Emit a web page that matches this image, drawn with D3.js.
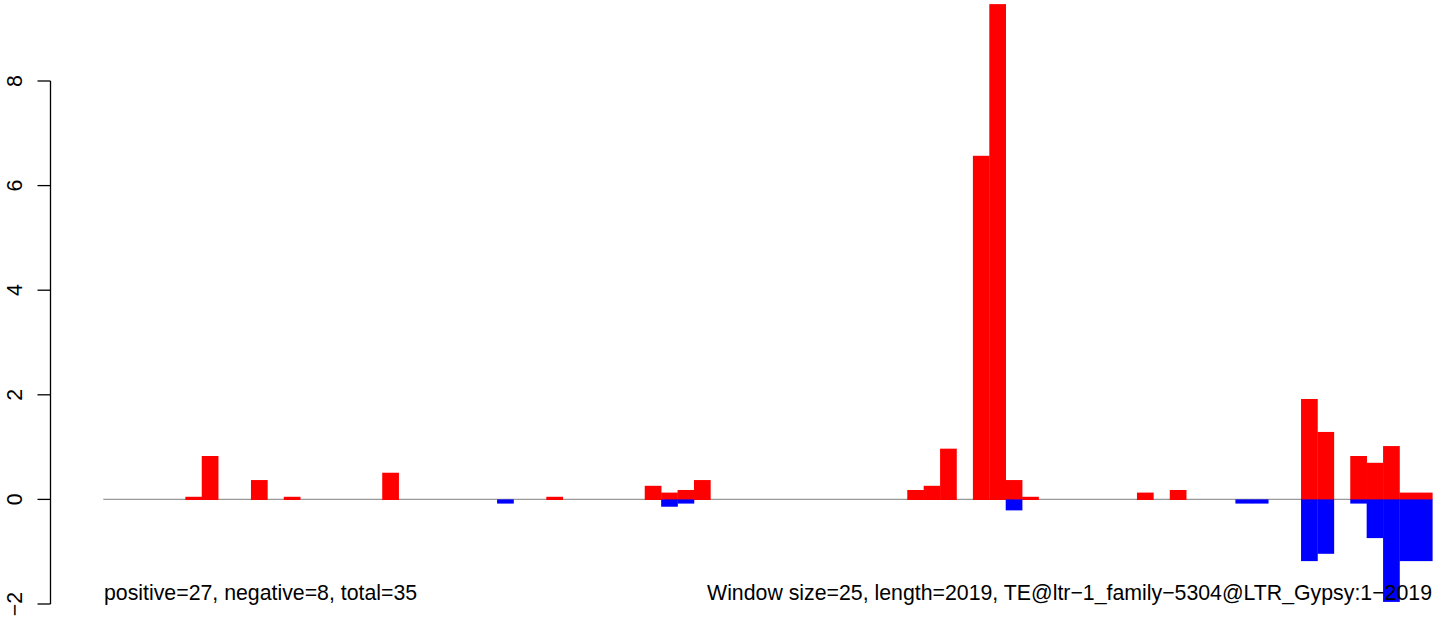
<!DOCTYPE html>
<html>
<head>
<meta charset="utf-8">
<script src="https://cdn.jsdelivr.net/npm/d3@7"></script>
<style>
  html, body { margin: 0; padding: 0; background: #fff; }
  svg { display: block; }
  text { font-family: "Liberation Sans", Arial, Helvetica, sans-serif; fill: #000; }
</style>
</head>
<body>
<svg id="chart" width="1444" height="623"></svg>
<script>
// Window index (0..80), window size 25 over length 2019
const windows = d3.range(81);

// Positive-strand values per window (0 = no bar)
const positiveValues = [
  0, 0, 0, 0, 0, 0.05, 0.83, 0, 0, 0.37,
  0, 0.05, 0, 0, 0, 0, 0, 0.51, 0, 0,
  0, 0, 0, 0, 0, 0, 0, 0.05, 0, 0,
  0, 0, 0, 0.26, 0.13, 0.18, 0.37, 0, 0, 0,
  0, 0, 0, 0, 0, 0, 0, 0, 0, 0.18,
  0.26, 0.97, 0, 6.57, 9.47, 0.37, 0.05, 0, 0, 0,
  0, 0, 0, 0.13, 0, 0.18, 0, 0, 0, 0,
  0, 0, 0, 1.92, 1.29, 0, 0.83, 0.70, 1.02, 0.13,
  0.13
];

// Negative-strand values per window
const negativeValues = [
  0, 0, 0, 0, 0, 0, 0, 0, 0, 0,
  0, 0, 0, 0, 0, 0, 0, 0, 0, 0,
  0, 0, 0, 0, -0.08, 0, 0, 0, 0, 0,
  0, 0, 0, 0, -0.14, -0.08, 0, 0, 0, 0,
  0, 0, 0, 0, 0, 0, 0, 0, 0, 0,
  0, 0, 0, 0, 0, -0.21, 0, 0, 0, 0,
  0, 0, 0, 0, 0, 0, 0, 0, 0, -0.08,
  -0.08, 0, 0, -1.18, -1.04, 0, -0.08, -0.74, -1.96, -1.18,
  -1.18
];

const yTicks = [-2, 0, 2, 4, 6, 8];
const leftNote = "positive=27, negative=8, total=35";
const rightNote = "Window size=25, length=2019, TE@ltr\u22121_family\u22125304@LTR_Gypsy:1\u22122019";

const svg = d3.select("#chart");

const x = d3.scaleBand().domain(windows).range([103.3, 1432.3]).paddingInner(0).paddingOuter(0);
const y = d3.scaleLinear().domain([-2, 8]).range([604, 81]);

// zero baseline
svg.append("line")
  .attr("x1", x.range()[0]).attr("x2", x.range()[1])
  .attr("y1", y(0)).attr("y2", y(0))
  .attr("stroke", "#999").attr("stroke-width", 1.4);

// positive bars
svg.append("g").selectAll("rect")
  .data(windows.filter(i => positiveValues[i] > 0))
  .join("rect")
  .attr("x", i => x(i))
  .attr("width", x.bandwidth() + 0.3)
  .attr("y", i => y(positiveValues[i]))
  .attr("height", i => y(0) - y(positiveValues[i]) + 0.6)
  .attr("fill", "#ff0000");

// negative bars
svg.append("g").selectAll("rect")
  .data(windows.filter(i => negativeValues[i] < 0))
  .join("rect")
  .attr("x", i => x(i))
  .attr("width", x.bandwidth() + 0.3)
  .attr("y", y(0))
  .attr("height", i => y(negativeValues[i]) - y(0))
  .attr("fill", "#0000ff");

// y axis (R style)
const axis = svg.append("g").attr("transform", "translate(50.5,0)");
axis.append("line")
  .attr("x1", 0).attr("x2", 0)
  .attr("y1", y(yTicks[0])).attr("y2", y(yTicks[yTicks.length - 1]))
  .attr("stroke", "#000").attr("stroke-width", 1.3);
axis.selectAll("line.tick")
  .data(yTicks).join("line").attr("class", "tick")
  .attr("x1", -13).attr("x2", 0)
  .attr("y1", d => y(d)).attr("y2", d => y(d))
  .attr("stroke", "#000").attr("stroke-width", 1.3);
axis.selectAll("text")
  .data(yTicks).join("text")
  .attr("transform", d => `translate(-29,${y(d)}) rotate(-90)`)
  .attr("text-anchor", "middle")
  .attr("font-size", 21.3)
  .text(d => d < 0 ? "\u2212" + Math.abs(d) : d);

// bottom notes
svg.append("text")
  .attr("x", 104).attr("y", 600)
  .attr("font-size", 21.3)
  .text(leftNote);
svg.append("text")
  .attr("x", 1432).attr("y", 600)
  .attr("text-anchor", "end")
  .attr("font-size", 21.3)
  .text(rightNote);
</script>
</body>
</html>
